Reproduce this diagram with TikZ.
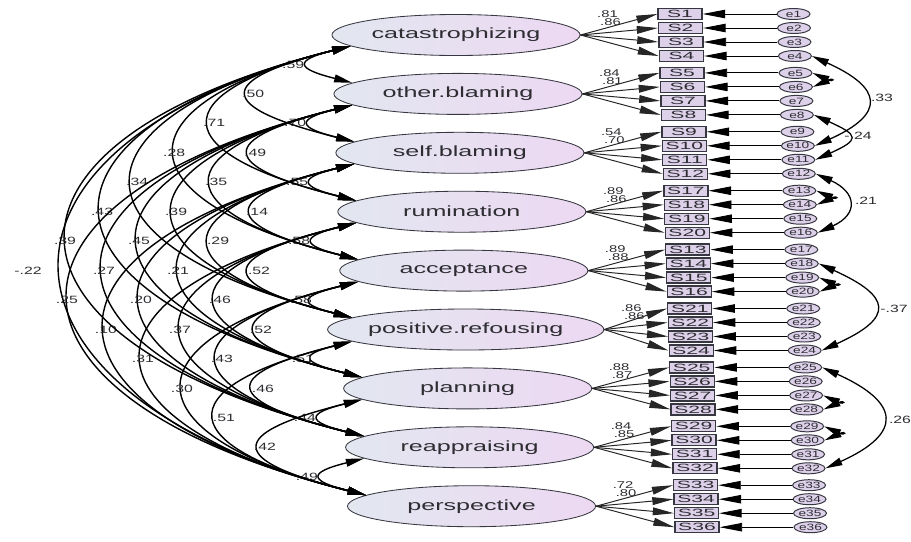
\documentclass[tikz,border=0pt]{standalone}
\usepackage{fontspec}
\setmainfont{Liberation Sans}
\newfontfamily\latfont[FakeStretch=1.7]{Liberation Sans}
\newfontfamily\boxfont[FakeStretch=2.0]{Liberation Sans}
\newfontfamily\numfont[FakeStretch=1.5]{Liberation Sans}
\usetikzlibrary{arrows.meta,shapes.geometric,calc}
\definecolor{LatLeft}{RGB}{226,231,240}
\definecolor{LatRight}{RGB}{237,216,242}
\definecolor{BoxFill}{RGB}{221,209,234}
\definecolor{EdgeGray}{RGB}{55,55,65}
\definecolor{TextGray}{RGB}{45,45,50}
\tikzset{
  latent/.style={ellipse,draw=EdgeGray,line width=0.6pt,left color=LatLeft,right color=LatRight,
    minimum width=6.2cm,minimum height=1.025cm,inner sep=0pt,
    font=\latfont\fontsize{10.5}{12}\selectfont,text=TextGray},
  item/.style={rectangle,draw=EdgeGray,line width=0.9pt,fill=BoxFill,minimum width=1.1cm,
    minimum height=0.275cm,inner sep=0pt,font=\boxfont\fontsize{7.5}{8}\selectfont,text=TextGray},
  errc/.style={ellipse,draw=EdgeGray,line width=0.7pt,fill=BoxFill,minimum width=0.825cm,
    minimum height=0.275cm,inner sep=0pt,font=\numfont\fontsize{6.5}{7}\selectfont,text=TextGray},
  coef/.style={font=\numfont\fontsize{7.5}{8}\selectfont,text=TextGray,inner sep=0pt},
  lcoef/.style={font=\numfont\fontsize{7}{7.5}\selectfont,text=TextGray,inner sep=0pt},
  load/.style={-{Triangle[length=15pt,width=5.5pt]},line width=0.7pt,draw=black!85},
  errarrow/.style={-{Triangle[length=16pt,width=6pt]},line width=0.6pt},
  corr/.style={{Triangle[length=13pt,width=5.5pt]}-{Triangle[length=13pt,width=5.5pt]},line width=1pt},
  ecorr/.style={{Triangle[length=12pt,width=5.5pt]}-{Triangle[length=12pt,width=5.5pt]},line width=0.9pt},
}
% covariance between two error terms, bulging to the right
\newcommand{\covarc}[3]{%
  \draw[ecorr] (e#1.east) .. controls +(#3,0.45*#3) and +(#3,-0.45*#3) .. (e#2.east);}

\begin{document}
\begin{tikzpicture}[x=0.025cm,y=-0.025cm]
  \useasboundingbox (0,0) rectangle (911,541);
  % factors
  \foreach \lname [count=\ii] in {catastrophizing,other.blaming,self.blaming,rumination,
      acceptance,positive.refousing,planning,reappraising,perspective}{
    \pgfmathsetmacro\ly{35+58.9*(\ii-1)}
    \node[latent] (lat\ii) at ({456+0.033*(\ly-35)},\ly) {\lname};
  }
  % items, errors and loadings
  \foreach \ii/\first/\lA/\lB in {1/1/.81/.86,2/5/.84/.81,3/9/.54/.70,4/17/.89/.86,5/13/.89/.88,
      6/21/.86/.86,7/25/.88/.87,8/29/.84/.85,9/33/.72/.80}{
    \pgfmathsetmacro\ly{35+58.9*(\ii-1)}
    \foreach \mm in {0,...,3}{
      \pgfmathtruncatemacro\jj{4*(\ii-1)+\mm+1}
      \pgfmathtruncatemacro\snum{\first+\mm}
      \pgfmathsetmacro\iy{\ly-21+14*\mm}
      \node[item] (box\jj) at ({680+0.033*(\iy-13)},\iy) {S\snum};
      \node[errc] (e\jj) at ({793.5+0.033*(\iy-13)},\iy) {e\jj};
      \draw[load] (lat\ii.east) -- (box\jj.west);
      \draw[errarrow] (e\jj.west) -- (box\jj.east);
    }
    \node[lcoef] (la\ii) at ($(lat\ii.east)+(27,-21)$) {\lA};
    \node[lcoef] (lb\ii) at ($(lat\ii.east)+(30,-13)$) {\lB};
  }
  % factor covariances
  \foreach \pa/\pb/\cv in {1/2/.59,2/3/.70,3/4/.55,4/5/.58,5/6/.58,6/7/.51,7/8/.44,8/9/.49,
      1/3/.50,2/4/.49,3/5/.14,4/6/.52,5/7/.52,6/8/.46,7/9/.42,
      1/4/.71,2/5/.35,3/6/.29,4/7/.46,5/8/.43,6/9/.51,
      1/5/.28,2/6/.39,3/7/.21,4/8/.37,5/9/.30,
      1/6/.34,2/7/.45,3/8/.20,4/9/.31,
      1/7/.43,2/8/.27,3/9/.10,
      1/8/.39,2/9/.25,
      1/9/-.22}{
    \pgfmathsetmacro\ym{35+58.9*((\pa+\pb)/2-1)}
    \pgfmathsetmacro\xo{333+0.033*(\ym-35)}
    \pgfmathsetmacro\apx{{298,237,198,163,123,87,52,45}[\pb-\pa-1]+0.033*(\ym-270)}
    \pgfmathsetmacro\lx{{300,259,219,178,140,104,66,28}[\pb-\pa-1]+0.033*(\ym-270)}
    \pgfmathsetmacro\kk{(\xo-\apx)/0.75}
    \draw[corr] (lat\pa.186) .. controls +(-\kk,0.25*\kk) and +(-\kk,-0.25*\kk) .. (lat\pb.174);
    \node[coef] (c\pa\pb) at (\lx,\ym) {\cv};
  }
  % error covariances
  \covarc{4}{10}{71}
  \covarc{8}{11}{45}
  \covarc{5}{6}{22}
  \covarc{12}{16}{41}
  \covarc{13}{14}{22}
  \covarc{18}{24}{73}
  \covarc{19}{20}{22}
  \covarc{25}{32}{78}
  \covarc{27}{28}{22}
  \covarc{29}{30}{22}
  \node[coef] (r1) at (882,98) {.33};
  \node[coef] (r2) at (858,136) {-.24};
  \node[coef] (r3) at (866,201) {.21};
  \node[coef] (r4) at (894,309) {-.37};
  \node[coef] (r5) at (900,420) {.26};
\end{tikzpicture}
\end{document}
